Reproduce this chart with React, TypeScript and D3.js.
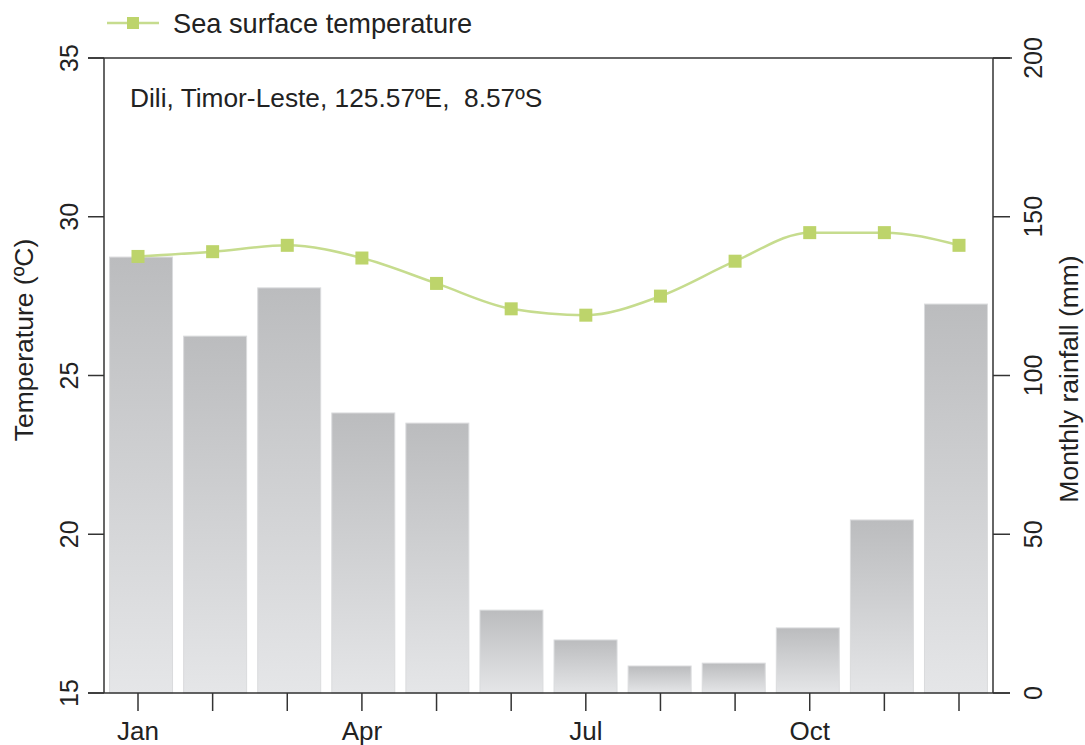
import React from "react";
import * as d3 from "d3";

const months = ["Jan","Feb","Mar","Apr","May","Jun","Jul","Aug","Sep","Oct","Nov","Dec"];
const rainfall = [137.3, 112.4, 127.6, 88.2, 85.0, 26.1, 16.7, 8.5, 9.4, 20.5, 54.5, 122.5];
const sst = [28.75, 28.9, 29.1, 28.7, 27.9, 27.1, 26.9, 27.5, 28.6, 29.5, 29.5, 29.1];
const tempTicks = [15, 20, 25, 30, 35];
const rainTicks = [0, 50, 100, 150, 200];
const monthLabels = ["Jan", "Apr", "Jul", "Oct"];

const W = 1085, H = 745;
const left = 104, right = 993, top = 58, bottom = 693;
const FONT = "'Liberation Sans', Arial, Helvetica, sans-serif";
const TXT = "#222";
const AX = "#333";

export default function App() {
  const x = d3.scalePoint<string>().domain(months).range([138, 959]);
  const xb = d3.scaleBand<string>().domain(months).range([left, right]).paddingInner(0.15).paddingOuter(0.075);
  const yT = d3.scaleLinear().domain([15, 35]).range([bottom, top]);
  const yR = d3.scaleLinear().domain([0, 200]).range([bottom, top]);
  const line = d3.line<number>()
    .x((_, i) => x(months[i])!)
    .y((d) => yT(d))
    .curve(d3.curveMonotoneX);
  const ms = 13;

  return (
    <svg width={W} height={H} style={{ position: "absolute", left: 0, top: 0, background: "#fff" }}>
      <defs>
        <linearGradient id="barGrad" x1="0" y1="0" x2="0" y2="1">
          <stop offset="0" stopColor="#bbbcbe" />
          <stop offset="1" stopColor="#e5e6e8" />
        </linearGradient>
      </defs>

      {/* bars */}
      {rainfall.map((v, i) => (
        <rect key={months[i]} x={xb(months[i])!} y={yR(v)} width={xb.bandwidth()} height={yR(0) - yR(v)}
          fill="url(#barGrad)" stroke="#dadbdd" strokeWidth={1} />
      ))}

      {/* frame */}
      <line x1={88} x2={1012} y1={top} y2={top} stroke={AX} strokeWidth={1.5} />
      <line x1={88} x2={1010} y1={bottom} y2={bottom} stroke={AX} strokeWidth={1.5} />
      <line x1={left} x2={left} y1={top} y2={bottom} stroke={AX} strokeWidth={1.5} />
      <line x1={right} x2={right} y1={top} y2={bottom} stroke={AX} strokeWidth={1.5} />

      {/* left ticks */}
      {tempTicks.map((t) => (
        <g key={"lt" + t}>
          <line x1={88} x2={left} y1={yT(t)} y2={yT(t)} stroke={AX} strokeWidth={1.5} />
          <text transform={`translate(78,${yT(t)}) rotate(-90)`} textAnchor="middle" fontFamily={FONT}
            fontSize={25} fill={TXT}>{t}</text>
        </g>
      ))}
      {/* right ticks */}
      {rainTicks.map((t) => (
        <g key={"rt" + t}>
          <line x1={right} x2={1010} y1={yR(t)} y2={yR(t)} stroke={AX} strokeWidth={1.5} />
          <text transform={`translate(1042,${yR(t)}) rotate(-90)`} textAnchor="middle" fontFamily={FONT}
            fontSize={25} fill={TXT}>{t}</text>
        </g>
      ))}
      {/* bottom ticks */}
      {months.map((m) => (
        <line key={"bt" + m} x1={x(m)!} x2={x(m)!} y1={bottom} y2={711} stroke={AX} strokeWidth={1.5} />
      ))}
      {monthLabels.map((m) => (
        <text key={"bl" + m} x={x(m)!} y={740} textAnchor="middle" fontFamily={FONT} fontSize={26} fill={TXT}>{m}</text>
      ))}

      {/* axis titles */}
      <text transform={`translate(33,340) rotate(-90)`} textAnchor="middle" fontFamily={FONT} fontSize={26.5} fill={TXT}>
        Temperature (ºC)
      </text>
      <text transform={`translate(1078,379) rotate(-90)`} textAnchor="middle" fontFamily={FONT} fontSize={26.5} fill={TXT}>
        Monthly rainfall (mm)
      </text>

      {/* location */}
      <text x={130} y={107} fontFamily={FONT} fontSize={26.3} fill={TXT} style={{ whiteSpace: "pre" }}>
        {"Dili, Timor-Leste, 125.57ºE,  8.57ºS"}
      </text>

      {/* SST line */}
      <path d={line(sst)!} fill="none" stroke="#c6dc8e" strokeWidth={2.5} />
      {sst.map((v, i) => (
        <rect key={"m" + i} x={x(months[i])! - ms / 2} y={yT(v) - ms / 2} width={ms} height={ms} fill="#bdd46b" />
      ))}

      {/* legend */}
      <line x1={107} x2={159} y1={23} y2={23} stroke="#c6dc8e" strokeWidth={2.5} />
      <rect x={133 - 6} y={23 - 6} width={12} height={12} fill="#bdd46b" />
      <text x={173} y={33} fontFamily={FONT} fontSize={27.2} fill={TXT}>Sea surface temperature</text>
    </svg>
  );
}
